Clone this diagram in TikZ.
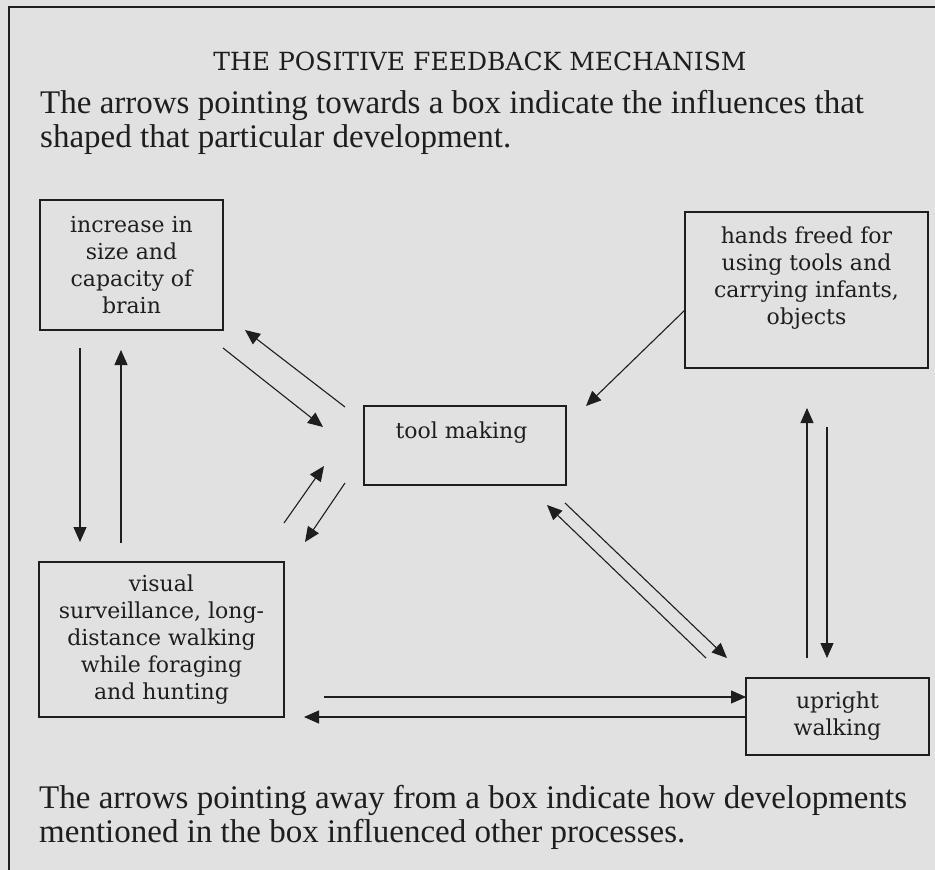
\documentclass[tikz,border=0pt]{standalone}
\usepackage{fontspec}
\setmainfont{DejaVu Serif}
\newfontfamily\notefont{Liberation Serif}
\usetikzlibrary{arrows.meta}

\definecolor{paper}{HTML}{E1E1E1}
\definecolor{ink}{HTML}{1E1E1E}

\tikzset{
	stage/.style={draw=ink, line width=1.4pt, align=center, inner sep=0pt, text=ink,
		font=\fontsize{22}{27}\selectfont},
	feed/.style={draw=ink, line width=1.1pt, -{Triangle[length=15pt,width=13pt]}},
	note/.style={anchor=north west, align=left, inner sep=0pt, text=ink,
		font=\notefont\fontsize{33}{34}\selectfont},
}

\begin{document}
\begin{tikzpicture}[x=1pt, y=-1pt]

		%%% HELP LINES - uncomment to design/extend
		% \draw[step=50,gray,very thin] (0,0) grid (935,870);

		%% Paper and frame
		\fill[paper] (0,0) rectangle (935,870);
		\useasboundingbox (0,0) rectangle (935,870);
		\draw[ink, line width=2.6pt] (935,7) -- (9,7) -- (9,870);

		% TITLE AND NOTES
		\node[anchor=base, text=ink, font=\fontsize{25}{30}\selectfont] (title) at (480,70)
			{THE POSITIVE FEEDBACK MECHANISM};
		\node[note] (towards) at (40,90) {
			The arrows pointing towards a box indicate the influences that \\
			shaped that particular development.
		};
		\node[note] (away) at (39,785) {
			The arrows pointing away from a box indicate how developments \\
			mentioned in the box influenced other processes.
		};

		% BOXES
		\node[stage, minimum width=183pt, minimum height=130pt] (brain) at (131.5,265) {
			increase in \\ size and \\ capacity of \\ brain
		};
		\node[stage, minimum width=202pt, minimum height=79pt, text depth=31pt] (tool) at (465,445.5) {
			tool making
		};
		\node[stage, minimum width=243pt, minimum height=156pt, text depth=29pt] (hands) at (806.5,290) {
			hands freed for \\ using tools and \\ carrying infants, \\ objects
		};
		\node[stage, minimum width=245pt, minimum height=155pt] (visual) at (161.5,639.5) {
			visual \\ surveillance, long- \\ distance walking \\ while foraging \\ and hunting
		};
		\node[stage, minimum width=183pt, minimum height=77pt] (upright) at (837.5,716.5) {
			upright \\ walking
		};

		% ARROW ENDS
		\coordinate (brainDown) at (80,348);   \coordinate (visualUp) at (80,542);
		\coordinate (visualTop) at (121,543);  \coordinate (brainLow) at (121,350);
		\coordinate (brainOut) at (223,348);   \coordinate (toolIn) at (323,427);
		\coordinate (toolOut) at (345,407);    \coordinate (brainIn) at (245,330);
		\coordinate (visualOut) at (284,523);  \coordinate (toolLow) at (324,466);
		\coordinate (toolDown) at (345,483);   \coordinate (visualIn) at (305,542);
		\coordinate (handsOut) at (685,310);   \coordinate (toolRight) at (586,406);
		\coordinate (uprightOut) at (706,658); \coordinate (toolCorner) at (547,505);
		\coordinate (toolSide) at (565,503);   \coordinate (uprightIn) at (727,658);
		\coordinate (uprightUp) at (807,658);  \coordinate (handsIn) at (807,408);
		\coordinate (handsDown) at (827,427);  \coordinate (uprightTop) at (827,658);
		\coordinate (visualRight) at (324,697); \coordinate (uprightLeft) at (746,697);
		\coordinate (uprightBack) at (746,717); \coordinate (visualBack) at (304,717);

		% BRAIN <-> VISUAL
		\draw[feed] (brainDown) -- (visualUp);
		\draw[feed] (visualTop) -- (brainLow);

		% BRAIN <-> TOOL
		\draw[feed] (brainOut) -- (toolIn);
		\draw[feed] (toolOut) -- (brainIn);

		% VISUAL <-> TOOL
		\draw[feed] (visualOut) -- (toolLow);
		\draw[feed] (toolDown) -- (visualIn);

		% HANDS -> TOOL
		\draw[feed] (handsOut) -- (toolRight);

		% UPRIGHT <-> TOOL
		\draw[feed] (uprightOut) -- (toolCorner);
		\draw[feed] (toolSide) -- (uprightIn);

		% UPRIGHT <-> HANDS
		\draw[feed] (uprightUp) -- (handsIn);
		\draw[feed] (handsDown) -- (uprightTop);

		% VISUAL <-> UPRIGHT
		\draw[feed] (visualRight) -- (uprightLeft);
		\draw[feed] (uprightBack) -- (visualBack);
	\end{tikzpicture}
\end{document}
